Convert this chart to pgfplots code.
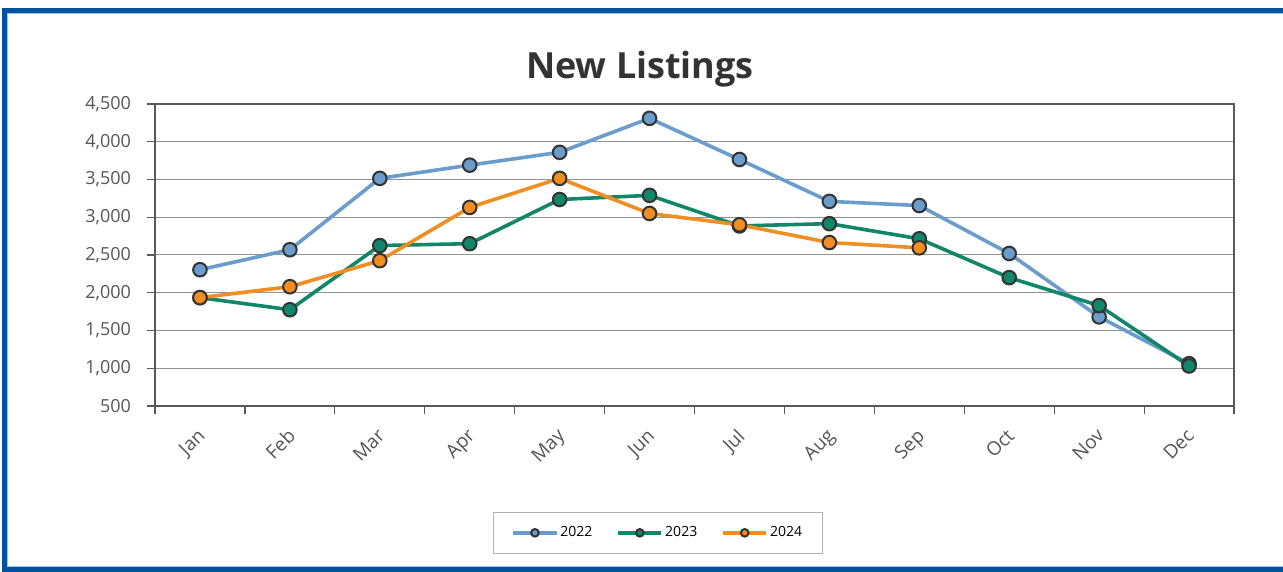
\documentclass[border=0pt]{standalone}
\usepackage{pgfplots}
\pgfplotsset{compat=1.18}
\usepackage{fontspec}
\setmainfont{Open Sans}
\definecolor{frameblue}{RGB}{0,82,158}
\definecolor{c22}{RGB}{106,156,204}
\definecolor{c23}{RGB}{18,134,104}
\definecolor{c24}{RGB}{240,142,34}
\definecolor{mk}{RGB}{51,51,51}
\definecolor{txt}{RGB}{85,85,85}

\begin{document}
\begin{tikzpicture}
\useasboundingbox (0,0) rectangle (641.5pt,286pt);
% outer frame (open on the right)
\draw[frameblue, line width=2.6pt] (645pt,280.75pt) -- (2.25pt,280.75pt) -- (2.25pt,1.25pt) -- (645pt,1.25pt);
\draw[frameblue!35, line width=0.5pt] (645pt,279.25pt) -- (3.75pt,279.25pt) -- (3.75pt,2.75pt) -- (645pt,2.75pt);
\node[font=\fontsize{18}{21}\selectfont\bfseries, text=black!80] at (320pt,251.5pt) {New Listings};
\begin{axis}[
  at={(77.5pt,83pt)}, anchor=south west,
  scale only axis, width=539.5pt, height=151pt,
  xmin=-0.5, xmax=11.5, ymin=500, ymax=4500,
  xtick={0,...,11},
  xticklabels={Jan,Feb,Mar,Apr,May,Jun,Jul,Aug,Sep,Oct,Nov,Dec},
  minor xtick={-0.5,0.5,...,11.5},
  ytick={500,1000,...,4500},
  ymajorgrids, grid style={gray!85, line width=0.5pt},
  axis line style={black!65, line width=0.7pt},
  major tick style={black!65, line width=0.6pt},
  minor tick style={black!65, line width=0.6pt},
  tick align=outside,
  xtick pos=bottom, ytick pos=left,
  major x tick style={draw=none},
  minor tick length=4pt, major tick length=4pt,
  /pgf/number format/.cd, 1000 sep={,}, assume math mode=true,
  /pgfplots/.cd,
  yticklabel style={font=\fontsize{9}{11}\selectfont, text=txt, xshift=-4.5pt},
  xticklabel style={font=\fontsize{9.5}{11}\selectfont, text=txt, rotate=45, anchor=north east, xshift=-2.5pt},
  legend style={at={(0.466,-0.42)}, anchor=center, draw=black!30, line width=0.5pt,
    font=\fontsize{7}{8}\selectfont, legend columns=3,
    nodes={inner xsep=1pt},
    /tikz/every odd column/.append style={column sep=0pt},
    /tikz/every even column/.append style={column sep=11pt}, inner xsep=9pt, inner ysep=5pt},
  legend image code/.code={
    \draw[#1, mark size=1.9pt, mark repeat=2, mark phase=2]
      plot coordinates {(0cm,0cm) (0.38cm,0cm) (0.76cm,0cm)};},
  every axis plot/.append style={line width=1.8pt, mark=*, mark size=3.4pt},
]
\addplot[c22, mark options={fill=c22, draw=mk, line width=1pt}] coordinates {
 (0,2305) (1,2570) (2,3515) (3,3690) (4,3860) (5,4310) (6,3765) (7,3210) (8,3155) (9,2520) (10,1680) (11,1060)};
\addlegendentry{2022}
\addplot[c23, mark options={fill=c23, draw=mk, line width=1pt}] coordinates {
 (0,1935) (1,1775) (2,2625) (3,2650) (4,3235) (5,3290) (6,2885) (7,2915) (8,2715) (9,2200) (10,1830) (11,1030)};
\addlegendentry{2023}
\addplot[c24, mark options={fill=c24, draw=mk, line width=1pt}] coordinates {
 (0,1935) (1,2080) (2,2425) (3,3130) (4,3515) (5,3050) (6,2900) (7,2665) (8,2595)};
\addlegendentry{2024}
\end{axis}
\end{tikzpicture}
\end{document}
